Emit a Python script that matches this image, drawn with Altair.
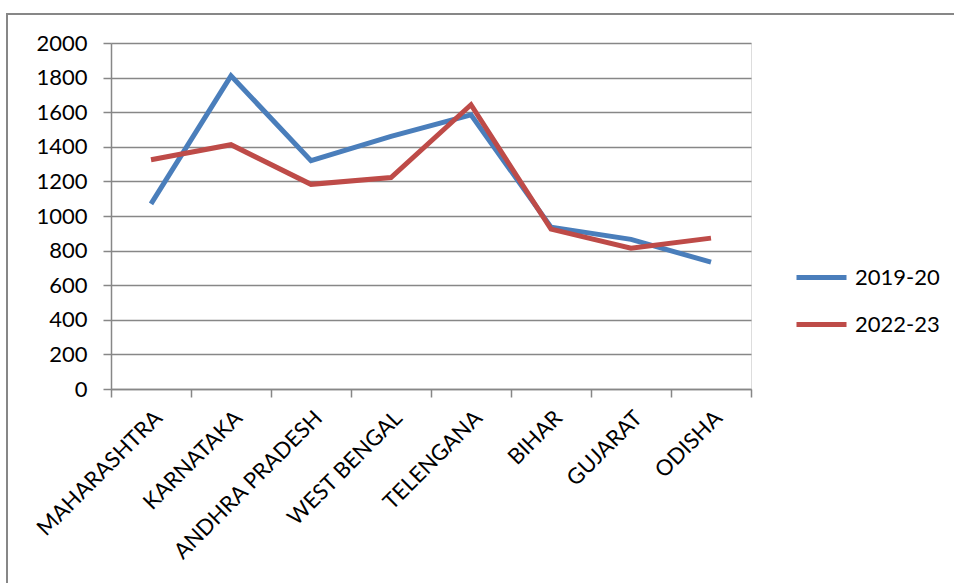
import altair as alt
import pandas as pd

# State-wise values for two periods
states = ["MAHARASHTRA", "KARNATAKA", "ANDHRA PRADESH", "WEST BENGAL",
          "TELENGANA", "BIHAR", "GUJARAT", "ODISHA"]
series_names = ["2019-20", "2022-23"]
values_2019_20 = [1070, 1810, 1320, 1460, 1585, 935, 865, 733]
values_2022_23 = [1325, 1412, 1183, 1222, 1643, 924, 814, 872]
y_ticks = [0, 200, 400, 600, 800, 1000, 1200, 1400, 1600, 1800, 2000]

rows = []
for name, vals in zip(series_names, [values_2019_20, values_2022_23]):
    for s, v in zip(states, vals):
        rows.append({"state": s, "period": name, "value": v})
df = pd.DataFrame(rows)

FONT = "Lato"
GRID = "#878787"

lines = alt.Chart(df).mark_line(strokeWidth=5).encode(
    x=alt.X(
        "state:N",
        sort=states,
        bandPosition=0.5,
        scale=alt.Scale(type="band", paddingInner=0, paddingOuter=0),
        axis=alt.Axis(
            title=None,
            labelAngle=-45,
            labelFontSize=22,
            labelFont=FONT,
            labelColor="black",
            labelLimit=0,
            tickBand="extent",
            tickSize=8,
            tickColor=GRID,
            tickWidth=1.5,
            domainColor=GRID,
            domainWidth=1.5,
            labelPadding=10,
            grid=False,
        ),
    ),
    y=alt.Y(
        "value:Q",
        scale=alt.Scale(domain=[0, 2000], nice=False),
        axis=alt.Axis(
            title=None,
            values=y_ticks,
            format="d",
            labelFontSize=22,
            labelFont=FONT,
            labelColor="black",
            tickSize=8,
            tickColor=GRID,
            tickWidth=1.5,
            domainColor=GRID,
            domainWidth=1.5,
            gridColor=GRID,
            gridWidth=1.5,
            gridOpacity=1,
            labelPadding=16,
        ),
    ),
    color=alt.Color(
        "period:N",
        sort=series_names,
        scale=alt.Scale(domain=series_names, range=["#4A7EBB", "#BE4B48"]),
        legend=alt.Legend(
            title=None,
            orient="none",
            legendX=683,
            legendY=207,
            symbolType="stroke",
            symbolSize=2500,
            symbolStrokeWidth=5,
            labelFontSize=22,
            labelFont=FONT,
            labelColor="black",
            labelOffset=6,
            rowPadding=8,
        ),
    ),
)

# Outer chart frame
frame = alt.Chart(pd.DataFrame({"k": [0]})).mark_rect(
    fill=None, stroke=GRID, strokeWidth=2, clip=False
).encode(
    x=alt.value(-104), x2=alt.value(900), y=alt.value(-29), y2=alt.value(600)
)

chart = alt.layer(frame, lines).properties(
    width=640,
    height=346,
    autosize=alt.AutoSizeParams(type="none"),
    padding={"left": 111, "top": 43, "right": 203, "bottom": 194},
).configure_view(stroke=None).configure(background="white")

chart.save("out.html", embed_options={"renderer": "svg", "actions": False})
